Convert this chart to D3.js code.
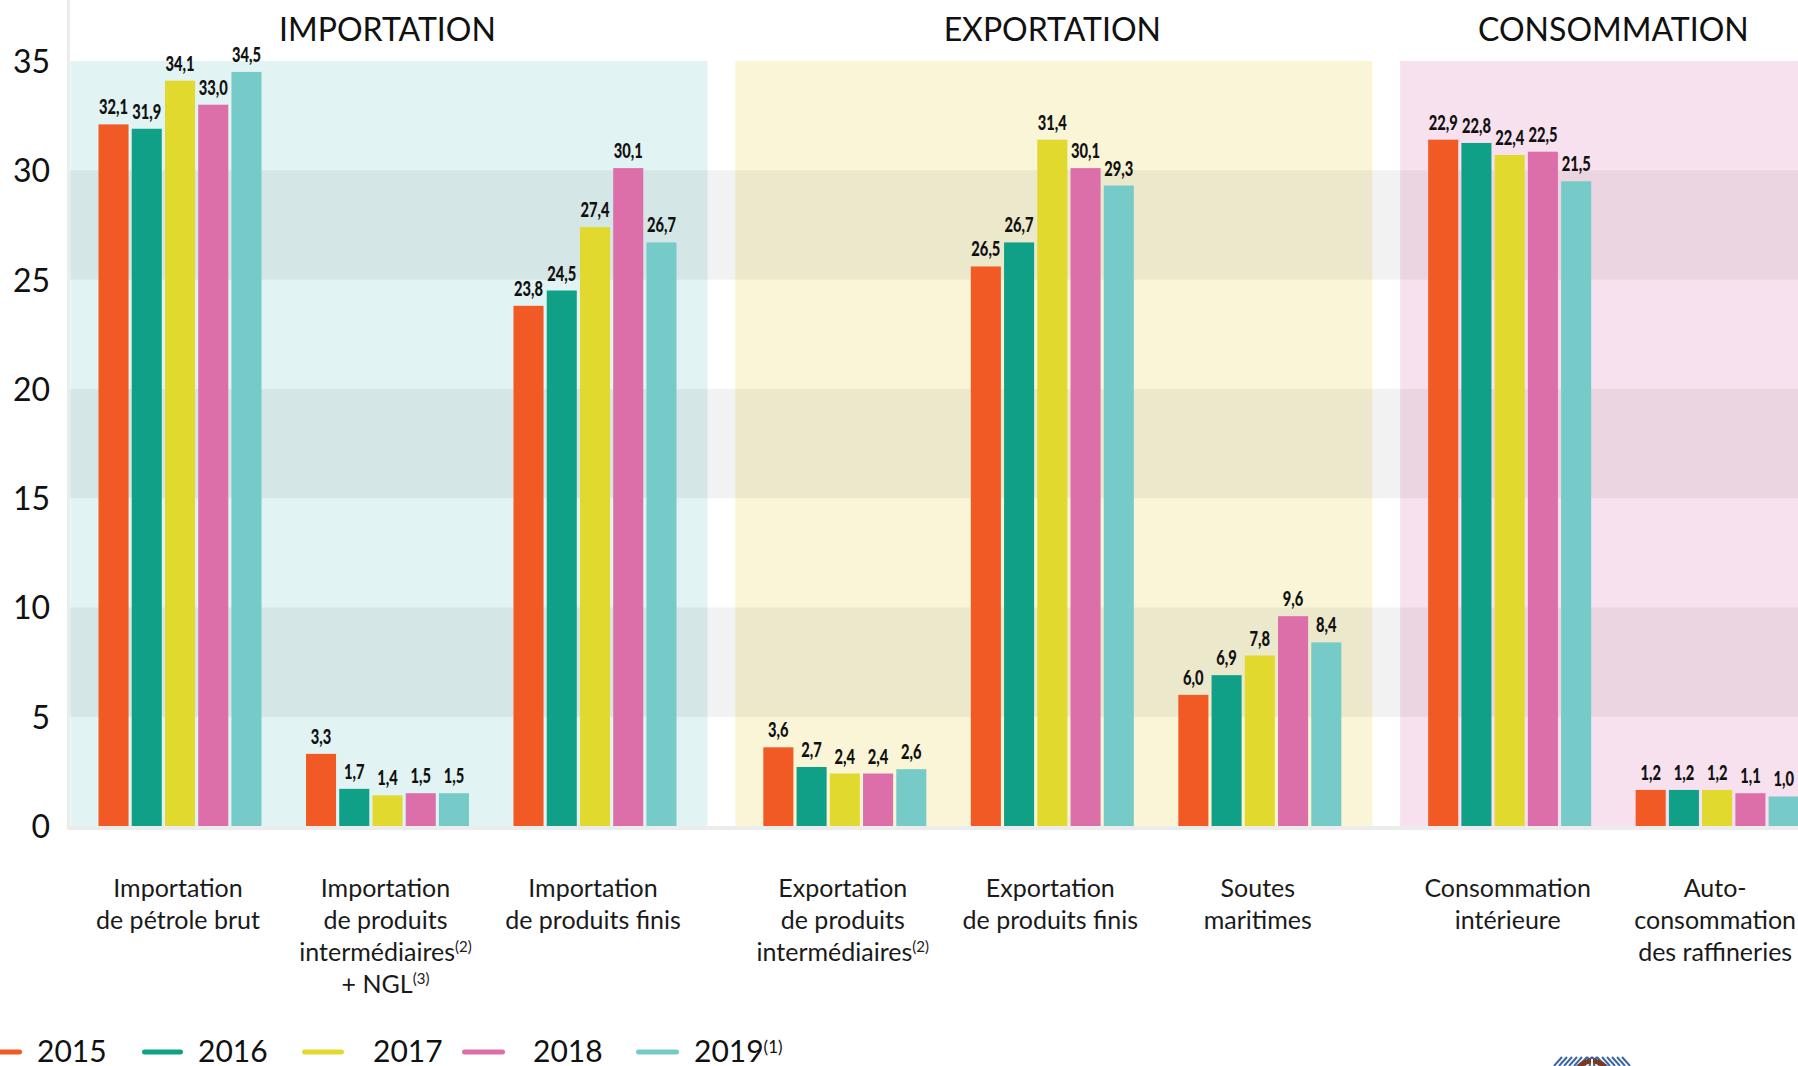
<!DOCTYPE html>
<html><head><meta charset="utf-8">
<script src="https://cdn.jsdelivr.net/npm/d3@7/dist/d3.min.js"></script>
<style>
html,body{margin:0;padding:0;background:#fff;overflow:hidden}
svg{display:block}
text{font-family:Lato,"Noto Sans",sans-serif}
</style></head>
<body>
<svg id="chart" width="1798" height="1066"></svg>
<script>
// ---------- data ----------
const years = ["2015", "2016", "2017", "2018", "2019"];
const yearLegend = ["2015", "2016", "2017", "2018", "2019^(1)"];
const sections = ["IMPORTATION", "EXPORTATION", "CONSOMMATION"];
const categories = ["imp_brut", "imp_inter", "imp_finis", "exp_inter", "exp_finis", "soutes", "conso_int", "auto_conso"];
const categorySection = [0, 0, 0, 1, 1, 1, 2, 2];
const categoryLabels = [
  ["Importation", "de pétrole brut"],
  ["Importation", "de produits", "intermédiaires^(2)", "+ NGL^(3)"],
  ["Importation", "de produits finis"],
  ["Exportation", "de produits", "intermédiaires^(2)"],
  ["Exportation", "de produits finis"],
  ["Soutes", "maritimes"],
  ["Consommation", "intérieure"],
  ["Auto-", "consommation", "des raffineries"]
];
// bar heights as drawn
const v2015 = [32.1, 3.3, 23.8, 3.6, 25.6, 6.0, 31.4, 1.65];
const v2016 = [31.9, 1.7, 24.5, 2.7, 26.7, 6.9, 31.25, 1.65];
const v2017 = [34.1, 1.4, 27.4, 2.4, 31.4, 7.8, 30.7, 1.65];
const v2018 = [33.0, 1.5, 30.1, 2.4, 30.1, 9.6, 30.85, 1.5];
const v2019 = [34.5, 1.5, 26.7, 2.6, 29.3, 8.4, 29.5, 1.35];
// printed value labels
const l2015 = ["32,1", "3,3", "23,8", "3,6", "26,5", "6,0", "22,9", "1,2"];
const l2016 = ["31,9", "1,7", "24,5", "2,7", "26,7", "6,9", "22,8", "1,2"];
const l2017 = ["34,1", "1,4", "27,4", "2,4", "31,4", "7,8", "22,4", "1,2"];
const l2018 = ["33,0", "1,5", "30,1", "2,4", "30,1", "9,6", "22,5", "1,1"];
const l2019 = ["34,5", "1,5", "26,7", "2,6", "29,3", "8,4", "21,5", "1,0"];
const yTicks = [0, 5, 10, 15, 20, 25, 30, 35];
const stripeRanges = [[5, 10], [15, 20], [25, 30]];

const seriesValues = [v2015, v2016, v2017, v2018, v2019];
const seriesLabels = [l2015, l2016, l2017, l2018, l2019];
const colors = ["#f15a24", "#0fa087", "#e1d92d", "#dc6eaa", "#76cbc8"];
const sectionBg = ["#e1f3f3", "#f9f5d6", "#f7e1ee"];

// ---------- layout ----------
const W = 1798, H = 1066;
const svg = d3.select("#chart");
const y = d3.scaleLinear().domain([0, 35]).range([826, 61]);
const sectionGap = 0.204;
const slot = d3.scaleLinear().domain([0, 1]).range([180, 387.5]);
const cx = i => slot(i + categorySection[i] * sectionGap);
const groupHalf = 81.5;
const xYear = d3.scaleBand().domain(years).range([-groupHalf, groupHalf]).paddingInner(0.096).paddingOuter(0);
const axisX = 68;

// section backgrounds
sections.forEach((s, si) => {
  const idx = categories.map((c, i) => i).filter(i => categorySection[i] === si);
  const x0 = cx(idx[0]) - groupHalf - 28;
  const x1 = cx(idx[idx.length - 1]) + groupHalf + 31;
  svg.append("rect").attr("x", x0).attr("y", y(35)).attr("width", x1 - x0).attr("height", y(0) - y(35))
    .attr("fill", sectionBg[si]);
  svg.append("text").attr("x", (cx(idx[0]) + cx(idx[idx.length - 1])) / 2).attr("y", 41)
    .attr("text-anchor", "middle").attr("font-size", 32).attr("fill", "#111").text(s);
});

// grey stripes
stripeRanges.forEach(r => {
  svg.append("rect").attr("x", axisX + 2).attr("y", y(r[1])).attr("width", W - axisX).attr("height", y(r[0]) - y(r[1]))
    .attr("fill", "rgba(0,0,0,0.052)");
});

// axis lines
svg.append("rect").attr("x", axisX - 1).attr("y", 0).attr("width", 3).attr("height", y(0) + 4).attr("fill", "#ececec");
svg.append("rect").attr("x", axisX - 1).attr("y", y(0)).attr("width", W).attr("height", 4).attr("fill", "#ececec");

// y axis
const yAxis = d3.axisLeft(y).tickValues(yTicks).tickSize(0).tickPadding(18).tickFormat(d3.format("d"));
const ya = svg.append("g").attr("transform", `translate(${axisX},0)`).call(yAxis);
ya.select(".domain").remove();
ya.selectAll("text").attr("font-size", 32).attr("fill", "#111").attr("font-family", "Lato, sans-serif").attr("dy", "0.36em");

// bars
const groups = svg.append("g").selectAll("g").data(categories).join("g")
  .attr("transform", (d, i) => `translate(${cx(i)},0)`);
years.forEach((yr, k) => {
  groups.append("rect")
    .attr("x", xYear(yr)).attr("width", xYear.bandwidth())
    .attr("y", (d, i) => y(seriesValues[k][i]))
    .attr("height", (d, i) => y(0) - y(seriesValues[k][i]))
    .attr("fill", colors[k]);
  groups.append("text")
    .attr("transform", (d, i) => `translate(${xYear(yr) + xYear.bandwidth() / 2},${y(seriesValues[k][i]) - 10}) scale(0.7,1)`)
    .attr("text-anchor", "middle").attr("font-size", 21).attr("font-weight", 900).attr("fill", "#111")
    .text((d, i) => seriesLabels[k][i]);
});

// helper for text with superscript
function richText(sel, str, supSize) {
  const parts = str.split("^");
  sel.append("tspan").text(parts[0]);
  if (parts[1]) sel.append("tspan").attr("font-size", supSize).attr("dy", -9).text(parts[1]);
}

// category labels
categories.forEach((c, i) => {
  categoryLabels[i].forEach((line, j) => {
    const t = svg.append("text").attr("x", cx(i) - 2).attr("y", 897 + j * 32)
      .attr("text-anchor", "middle").attr("font-size", 25).attr("fill", "#1a1a1a");
    richText(t, line, 15);
  });
});

// legend
const swatchX = [-20, 142, 302, 462, 636];
const swatchW = [42, 41, 42, 43, 43];
const textX = [37, 198, 373, 533, 694];
years.forEach((yr, k) => {
  svg.append("line").attr("x1", swatchX[k] + 2.5).attr("x2", swatchX[k] + swatchW[k] - 2.5)
    .attr("y1", 1052).attr("y2", 1052).attr("stroke", colors[k]).attr("stroke-width", 5).attr("stroke-linecap", "round");
  const t = svg.append("text").attr("x", textX[k]).attr("y", 1062).attr("font-size", 30).attr("fill", "#111");
  richText(t, yearLegend[k], 17);
});

// partial logo at bottom
const logo = svg.append("g").attr("transform", "translate(1554,1057)");
for (let s = 0; s < 8; s++) {
  logo.append("line").attr("x1", s * 5).attr("y1", 9).attr("x2", s * 5 + 8).attr("y2", 0)
    .attr("stroke", "#3a66a8").attr("stroke-width", 2);
  logo.append("line").attr("x1", 76 - s * 5).attr("y1", 9).attr("x2", 68 - s * 5).attr("y2", 0)
    .attr("stroke", "#3a66a8").attr("stroke-width", 2);
}
logo.append("circle").attr("cx", 38).attr("cy", 22).attr("r", 18).attr("fill", "none").attr("stroke", "#7a3b22").attr("stroke-width", 5);
logo.append("line").attr("x1", 38).attr("x2", 38).attr("y1", 2).attr("y2", 9).attr("stroke", "#fff").attr("stroke-width", 2);
</script>
</body></html>
